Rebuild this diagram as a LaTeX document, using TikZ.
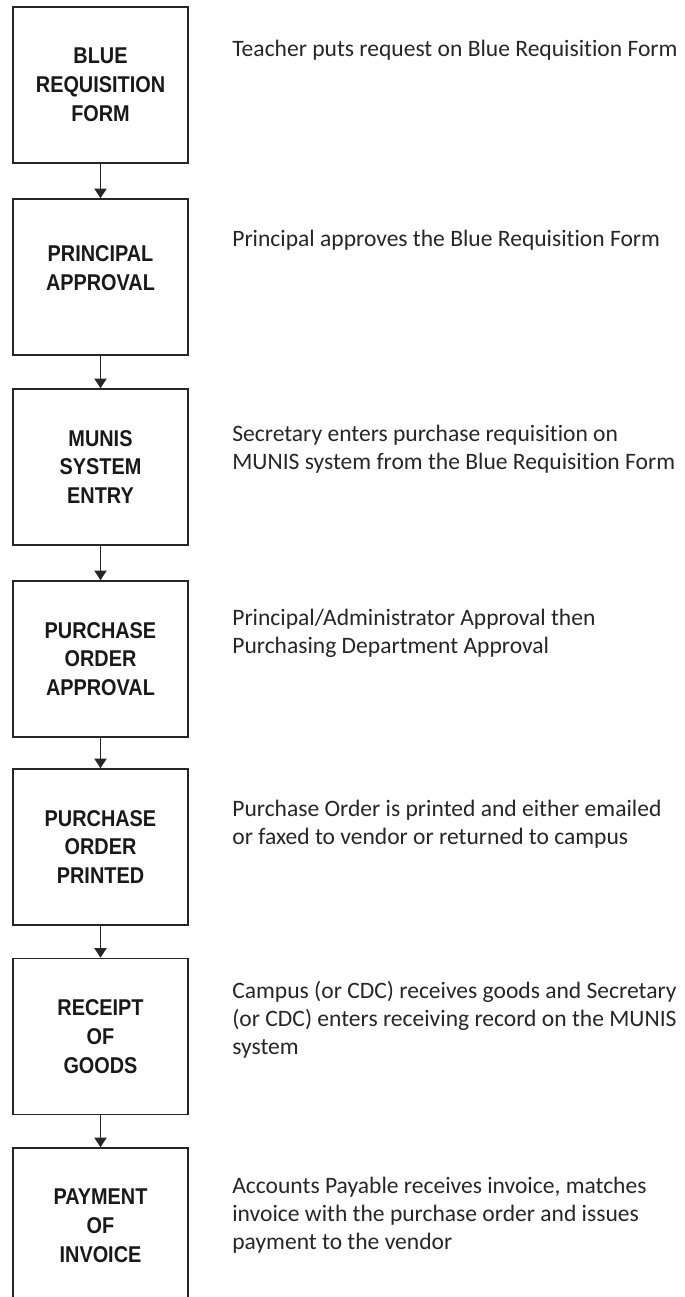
\documentclass[tikz,border=0pt]{standalone}
\usepackage{fontspec}
\setmainfont{Carlito}[Ligatures=NoCommon]
\newfontfamily\boxfont[FakeStretch=0.87]{Liberation Sans}
\usepackage{tikz}
\usetikzlibrary{arrows.meta, positioning}

\tikzset{
	stagebox/.style={draw=black!85, line width=0.95pt, minimum width=3.5cm, minimum height=3.12cm,
		align=center, font=\boxfont\bfseries\fontsize{13}{16.4}\selectfont, text=black!90},
	note/.style={anchor=west, align=left, font=\fontsize{13.4}{15.9}\selectfont, text=black!85, inner sep=0pt},
	flow/.style={->, line width=0.85pt, draw=black!85}
}

\begin{document}
\begin{tikzpicture}[x=0.02cm, y=-0.02cm, >={Triangle[length=5.5pt, width=7pt]}]
		\useasboundingbox (0,0) rectangle (684,1297);

		% Stages
		\node[stagebox] (form) at (100.5,85) {BLUE\\REQUISITION\\FORM};
		\node[stagebox] (principal) at (100.5,277) {};
		\node[font=\boxfont\bfseries\fontsize{13}{16.4}\selectfont, text=black!90, align=center] at (100.5,268) {PRINCIPAL\\APPROVAL};
		\node[stagebox] (munis) at (100.5,467) {MUNIS\\SYSTEM\\ENTRY};
		\node[stagebox] (poapproval) at (100.5,659) {PURCHASE\\ORDER\\APPROVAL};
		\node[stagebox] (poprinted) at (100.5,847) {PURCHASE\\ORDER\\PRINTED};
		\node[stagebox] (receipt) at (100.5,1036.5) {RECEIPT\\OF\\GOODS};
		\node[stagebox] (payment) at (100.5,1226) {PAYMENT\\OF\\INVOICE};

		% Connectors
		\draw[flow] (form) -- (principal);
		\draw[flow] (principal) -- (munis);
		\draw[flow] (munis) -- (poapproval);
		\draw[flow] (poapproval) -- (poprinted);
		\draw[flow] (poprinted) -- (receipt);
		\draw[flow] (receipt) -- (payment);

		% Descriptions
		\node[note] (formnote) at (232,50) {Teacher puts request on Blue Requisition Form};
		\node[note] (principalnote) at (232,240) {Principal approves the Blue Requisition Form};
		\node[note] (munisnote) at (232,449) {Secretary enters purchase requisition on\\MUNIS system from the Blue Requisition Form};
		\node[note] (poapprovalnote) at (232,633.5) {Principal/Administrator Approval then\\Purchasing Department Approval};
		\node[note] (poprintednote) at (232,824) {Purchase Order is printed and either emailed\\or faxed to vendor or returned to campus};
		\node[note] (receiptnote) at (232,1019.5) {Campus (or CDC) receives goods and Secretary\\(or CDC) enters receiving record on the MUNIS\\system};
		\node[note] (paymentnote) at (232,1215) {Accounts Payable receives invoice, matches\\invoice with the purchase order and issues\\payment to the vendor};
	\end{tikzpicture}
\end{document}
